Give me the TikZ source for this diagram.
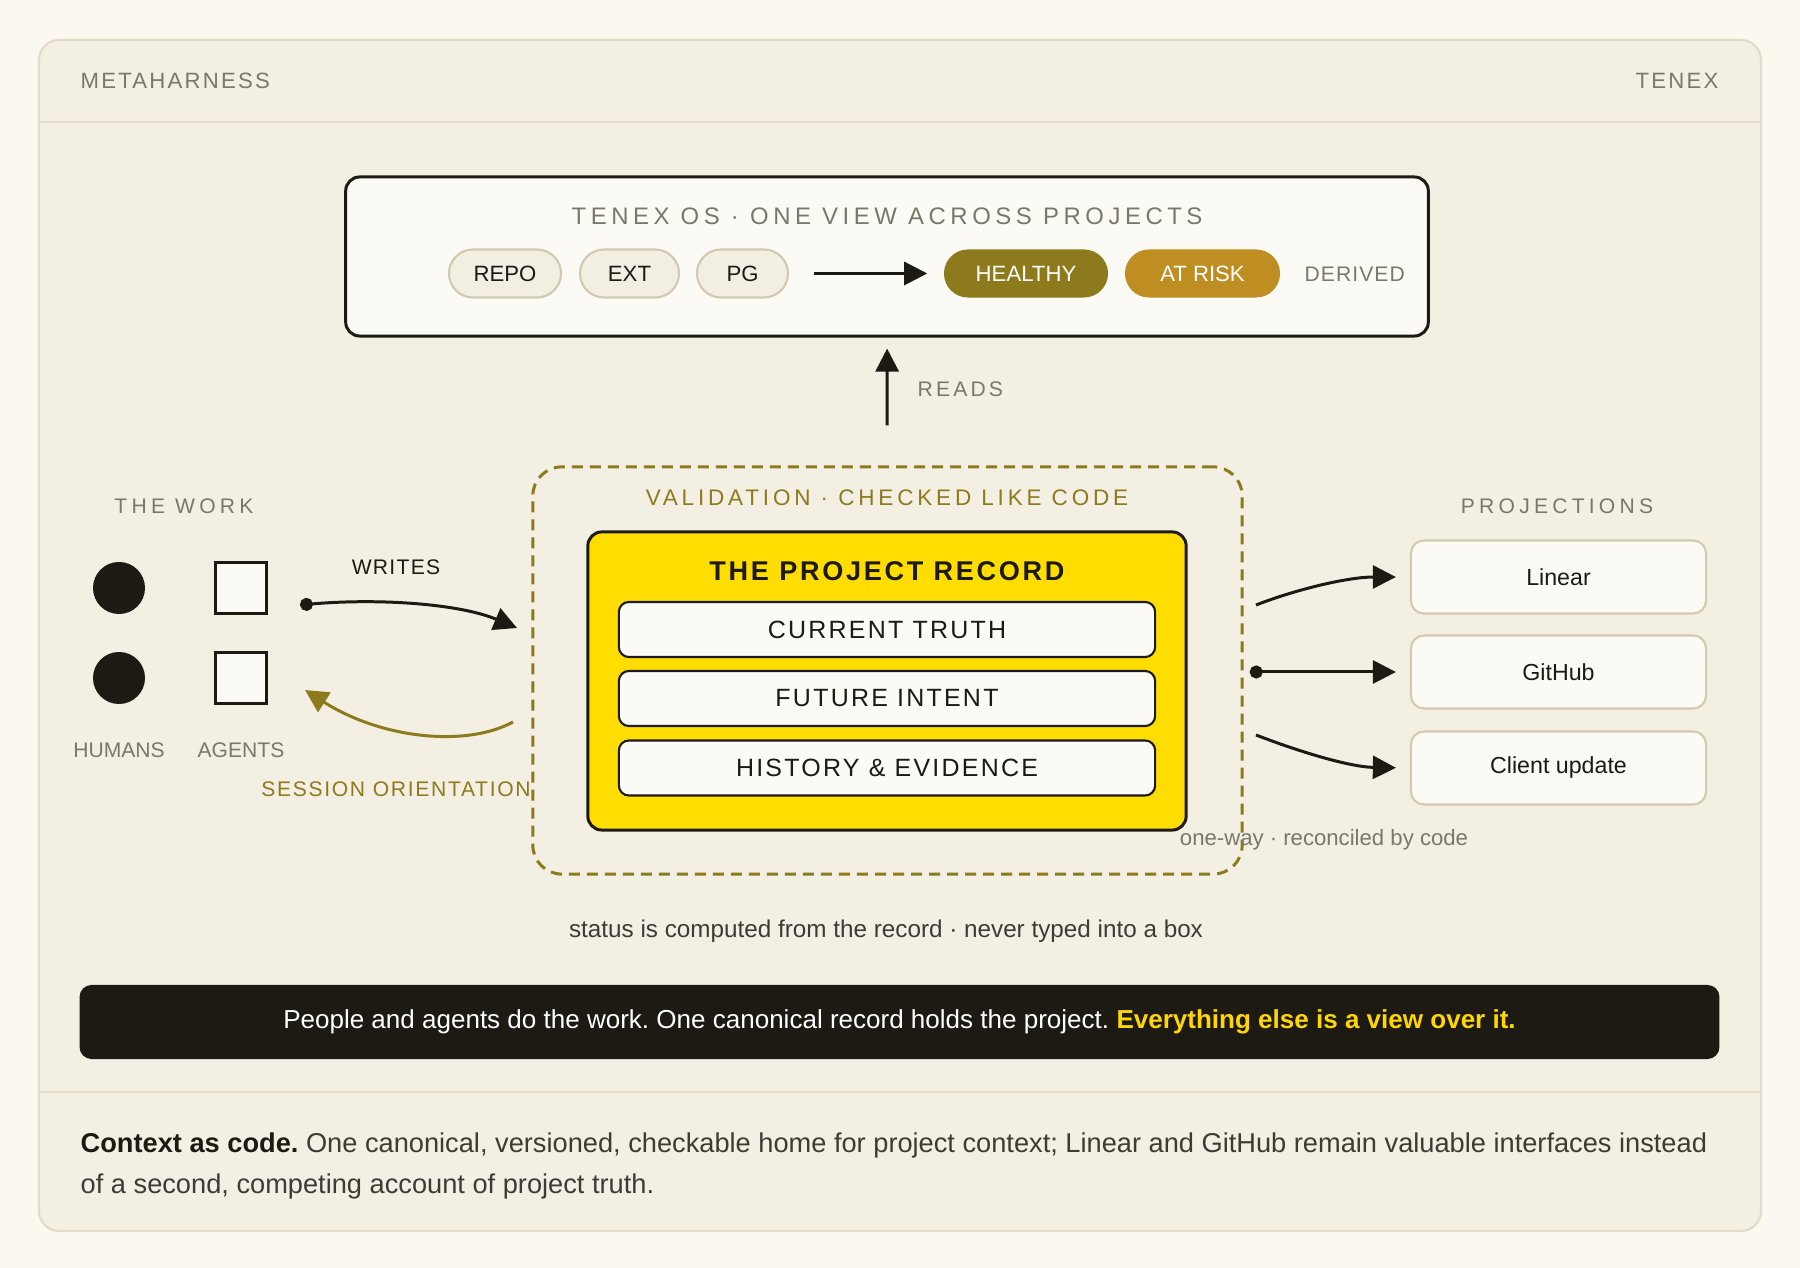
\documentclass[tikz,border=0pt]{standalone}
\usepackage{fontspec}
\setmainfont{Liberation Sans}
\usepackage{xcolor}
\usetikzlibrary{arrows.meta}
\frenchspacing

\definecolor{paper}{HTML}{FBF8F0}
\definecolor{card}{HTML}{F4EFE3}
\definecolor{cardline}{HTML}{E2DBC8}
\definecolor{ink}{HTML}{1C1A13}
\definecolor{muted}{HTML}{7A776B}
\definecolor{bodytext}{HTML}{3E3B32}
\definecolor{olive}{HTML}{8C7A1C}
\definecolor{amber}{HTML}{BE8E22}
\definecolor{recyellow}{HTML}{FFDD00}
\definecolor{hilite}{HTML}{FFD600}
\definecolor{pillfill}{HTML}{F3EEE2}
\definecolor{pillline}{HTML}{D2C9AF}
\definecolor{boxfill}{HTML}{FCFAF4}

\newcommand{\setfs}[1]{\fontsize{#1}{#1}\selectfont}
\newcommand{\spaced}[1]{\addfontfeature{LetterSpace=#1}}

\tikzset{
  head/.style={text=muted, inner sep=0pt, font=\setfs{6.3}\spaced{10}},
  caption/.style={text=muted, font=\setfs{6}\spaced{20}},
  tag/.style={text=muted, font=\setfs{6}},
  pill/.style={draw=pillline, fill=pillfill, line width=0.6pt, rounded corners=2.4mm,
    minimum height=0.48cm, inner sep=0pt, text=ink, font=\setfs{6.3}},
  badge/.style={fill=#1, text=white, rounded corners=2.4mm,
    minimum height=0.48cm, inner sep=0pt, font=\setfs{6.3}},
  layer/.style={draw=ink, fill=boxfill, line width=0.6pt, rounded corners=1mm,
    minimum width=5.36cm, minimum height=0.55cm, text=ink, font=\setfs{7.1}\spaced{9}},
  proj/.style={draw=pillline, fill=boxfill, line width=0.6pt, rounded corners=1.3mm,
    minimum width=2.95cm, minimum height=0.73cm, text=ink, font=\setfs{6.6}},
  human/.style={circle, fill=ink, minimum size=0.52cm, inner sep=0pt},
  agent/.style={draw=ink, fill=boxfill, line width=0.85pt, minimum size=0.51cm, inner sep=0pt},
  flow/.style={ink, line width=0.85pt, -{Triangle[length=2.3mm,width=2.3mm]}},
  dotflow/.style={flow, {Circle[length=1.3mm]}-{Triangle[length=2.3mm,width=2.3mm]}}
}

\begin{document}
\begin{tikzpicture}[x=0.01cm, y=-0.01cm]
  \fill[paper] (0,0) rectangle (1800,1268);
  \useasboundingbox (0,0) rectangle (1800,1268);
  \draw[cardline, fill=card, line width=0.6pt, rounded corners=2mm] (39,40) rectangle (1761,1231);
  \draw[cardline, line width=0.6pt] (39,122) -- (1761,122);
  \draw[cardline, line width=0.6pt] (39,1092) -- (1761,1092);
  \node[head, anchor=west] (brand) at (80,81) {METAHARNESS};
  \node[head, anchor=east] (maker) at (1719,81) {TENEX};

  % one view across projects
  \node[draw=ink, fill=boxfill, line width=0.85pt, rounded corners=1.4mm,
        minimum width=10.82cm, minimum height=1.59cm] (osbox) at (887,256.5) {};
  \node[text=muted, font=\setfs{6.8}\spaced{19}] (ostitle) at (887,216) {TENEX OS · ONE VIEW ACROSS PROJECTS};
  \foreach \name/\x/\w/\txt in {repo/505/1.12/REPO, ext/629.5/0.99/EXT, pg/742.5/0.91/PG}
    \node[pill, minimum width=\w cm] (\name) at (\x,273.5) {\txt};
  \node[badge=olive, minimum width=1.64cm] (healthy) at (1026,273.5) {HEALTHY};
  \node[badge=amber, minimum width=1.55cm] (risk) at (1202.5,273.5) {AT RISK};
  \node[anchor=west, inner sep=0pt, text=muted, font=\setfs{6}\spaced{5}] (derived) at (1304,274) {DERIVED};
  \draw[flow, shorten <=0.25cm, shorten >=0.16cm] (pg) -- (healthy);

  % validation around the record
  \node[draw=olive, line width=0.85pt, dash pattern=on 1.1mm off 0.7mm, rounded corners=2.9mm,
        minimum width=7.09cm, minimum height=4.07cm] (check) at (887.5,670.5) {};
  \node[text=olive, font=\setfs{6.4}\spaced{17}] (checktitle) at (887,498) {VALIDATION · CHECKED LIKE CODE};
  \draw[flow, shorten <=0.4cm, shorten >=0.11cm] (check) -- (osbox);
  \node[anchor=west, inner sep=0pt, text=muted, font=\setfs{6}\spaced{15}] (reads) at (917,389) {READS};

  \node[draw=ink, fill=recyellow, line width=0.85pt, rounded corners=1.4mm,
        minimum width=5.98cm, minimum height=2.98cm] (record) at (887,681) {};
  \node[text=ink, font=\setfs{7.7}\bfseries\spaced{10}] (recordtitle) at (887,571) {THE PROJECT RECORD};
  \foreach \name/\y/\txt in {truth/629.5/CURRENT TRUTH, intent/698.5/FUTURE INTENT, history/768/HISTORY \& EVIDENCE}
    \node[layer] (\name) at (887,\y) {\txt};

  % the work
  \node[caption] (worktitle) at (184,506) {THE WORK};
  \foreach \i/\y in {1/588, 2/678} {
    \node[human] (human\i) at (119,\y) {};
    \node[agent] (agent\i) at (241,\y) {};
  }
  \node[tag] (humans) at (119,750) {HUMANS};
  \node[tag] (agents) at (241,750) {AGENTS};

  \coordinate (wfrom) at (300,605);
  \coordinate (wto) at (517,628);
  \draw[dotflow] (wfrom) .. controls (380,598) and (460,604) .. (wto);
  \node[text=ink, font=\setfs{6}\spaced{6}] (writes) at (396,567) {WRITES};

  \coordinate (sfrom) at (513,722);
  \coordinate (sto) at (305,690);
  \draw[flow, olive] (sfrom) .. controls (465,748) and (380,738) .. (sto);
  \node[text=olive, font=\setfs{6}\spaced{8}] (session) at (396,789) {SESSION ORIENTATION};

  % projections
  \node[caption] (projtitle) at (1557,506) {PROJECTIONS};
  \foreach \name/\y/\txt in {linear/577/Linear, github/672/GitHub, client/768/Client update}
    \node[proj] (\name) at (1558.5,\y) {\txt};
  \coordinate (tolinear) at (1256,605);
  \coordinate (toclient) at (1256,735);
  \draw[flow, shorten >=0.14cm] (tolinear) .. controls (1300,588) and (1350,577) .. (linear.west);
  \draw[dotflow, shorten <=0.06cm, shorten >=0.14cm] (check.east |- github.west) -- (github.west);
  \draw[flow, shorten >=0.14cm] (toclient) .. controls (1300,752) and (1350,767) .. (client.west);
  \node[text=muted, font=\setfs{6.3}] (oneway) at (1324,840) {one-way · reconciled by code};

  \node[text=bodytext, font=\setfs{6.9}] (status) at (886,931) {status is computed from the record · never typed into a box};

  % bottom line
  \node[fill=ink, rounded corners=1.2mm, minimum width=16.39cm, minimum height=0.74cm,
        text=white, font=\setfs{7.4}] (tagline) at (899.5,1022)
        {People and agents do the work. One canonical record holds the project. \textcolor{hilite}{\bfseries Everything else is a view over it.}};
  \node[anchor=west, align=left, inner sep=0pt, text=bodytext, font=\fontsize{7.74}{11.5}\selectfont] (context) at (80,1166)
        {\textcolor{ink}{\bfseries Context as code.} One canonical, versioned, checkable home for project context; Linear and GitHub remain valuable interfaces instead\\
         of a second, competing account of project truth.};
\end{tikzpicture}
\end{document}
